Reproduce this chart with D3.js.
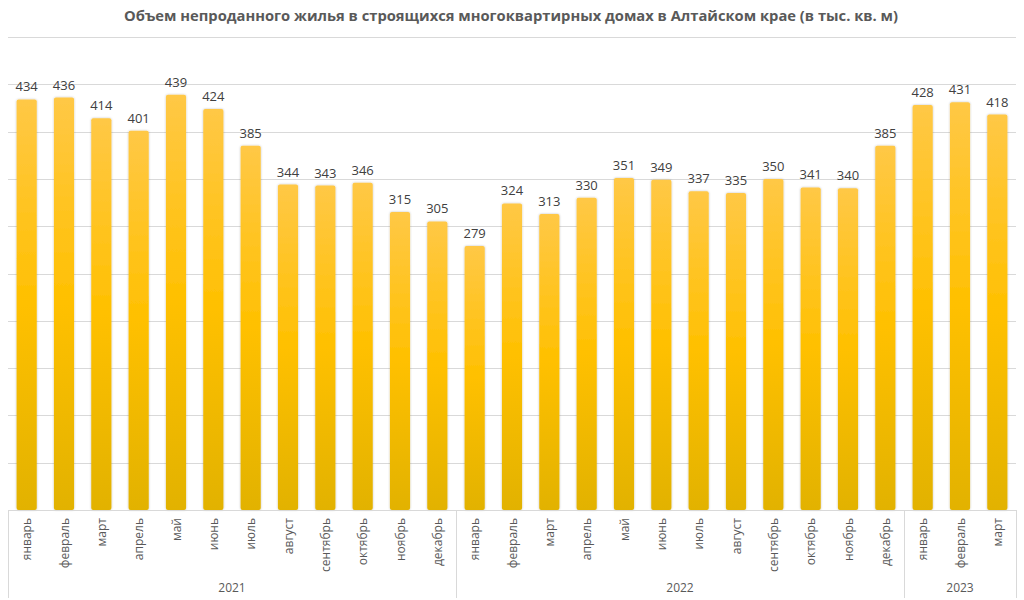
<!DOCTYPE html>
<html><head><meta charset="utf-8">
<script src="https://cdn.jsdelivr.net/npm/d3@7"></script>
<style>body{margin:0;background:#fff}svg{display:block}</style>
</head><body><svg id="c" width="1024" height="600"></svg>
<script>
const months = ["январь","февраль","март","апрель","май","июнь","июль","август","сентябрь","октябрь","ноябрь","декабрь",
"январь","февраль","март","апрель","май","июнь","июль","август","сентябрь","октябрь","ноябрь","декабрь",
"январь","февраль","март"];
const years = ["2021","2022","2023"];
const yearCounts = [12,12,3];
const values = [434,436,414,401,439,424,385,344,343,346,315,305,279,324,313,330,351,349,337,335,350,341,340,385,428,431,418];
const yTicks = [0,50,100,150,200,250,300,350,400,450,500];
const title = "Объем непроданного жилья в строящихся многоквартирных домах в Алтайском крае (в тыс. кв. м)";

const svg = d3.select("#c");
const L=8,R=1016,T=37,B=510;
const idx = values.map((d,i)=>i);
const x = d3.scaleBand().domain(idx).range([L,R]).paddingInner(0.46).paddingOuter(0.23);
const y = d3.scaleLinear().domain([0,500]).range([B,T]);

const defs = svg.append("defs");
const g = defs.append("linearGradient").attr("id","bg").attr("x1",0).attr("y1",0).attr("x2",0).attr("y2",1);
g.append("stop").attr("offset","0%").attr("stop-color","#FFC846");
g.append("stop").attr("offset","50%").attr("stop-color","#FFC000");
g.append("stop").attr("offset","100%").attr("stop-color","#E2B200");
const f = defs.append("filter").attr("id","sh").attr("x","-30%").attr("y","-10%").attr("width","160%").attr("height","120%");
f.append("feGaussianBlur").attr("in","SourceAlpha").attr("stdDeviation",1.2).attr("result","b");
f.append("feFlood").attr("flood-color","#000").attr("flood-opacity",0.25);
f.append("feComposite").attr("in2","b").attr("operator","in").attr("result","s");
const fm = f.append("feMerge"); fm.append("feMergeNode").attr("in","s"); fm.append("feMergeNode").attr("in","SourceGraphic");

svg.append("text").attr("x",511).attr("y",21).attr("text-anchor","middle")
 .attr("font-family","'Open Sans',sans-serif").attr("font-weight","bold").attr("font-size",14.5)
 .attr("fill","#595959").attr("textLength",774).attr("lengthAdjust","spacingAndGlyphs").text(title);

svg.append("g").selectAll("line").data(yTicks.slice(1)).join("line")
 .attr("x1",L).attr("x2",R).attr("y1",d=>Math.round(y(d))+0.5).attr("y2",d=>Math.round(y(d))+0.5)
 .attr("stroke","#d9d9d9").attr("stroke-width",1);

svg.append("g").selectAll("rect").data(values).join("rect")
 .attr("x",(d,i)=>x(i)).attr("y",d=>y(d)).attr("width",x.bandwidth()).attr("height",d=>B-y(d))
 .attr("rx",2).attr("fill","url(#bg)").attr("filter","url(#sh)");

svg.append("g").selectAll("text").data(values).join("text")
 .attr("x",(d,i)=>x(i)+x.bandwidth()/2).attr("y",d=>y(d)-8).attr("text-anchor","middle")
 .attr("font-family","'Open Sans',sans-serif").attr("font-size",13).attr("fill","#404040").text(d=>d);

// axis
svg.append("line").attr("x1",L).attr("x2",R).attr("y1",B+0.5).attr("y2",B+0.5).attr("stroke","#d9d9d9");
let start=0; const bounds=[L];
yearCounts.forEach(c=>{start+=c; bounds.push(start<values.length? (x(start-1)+x.bandwidth()+x(start))/2 : R);});
svg.append("g").selectAll("line").data(bounds).join("line")
 .attr("x1",d=>Math.round(d)+0.5).attr("x2",d=>Math.round(d)+0.5).attr("y1",B).attr("y2",598)
 .attr("stroke","#d9d9d9");

svg.append("g").selectAll("text").data(months).join("text")
 .attr("transform",(d,i)=>`translate(${x(i)+x.bandwidth()/2+4.5},${B+8}) rotate(-90)`)
 .attr("text-anchor","end").attr("font-family","'Open Sans',sans-serif").attr("font-size",12)
 .attr("fill","#595959").text(d=>d);

svg.append("g").selectAll("text").data(years).join("text")
 .attr("x",(d,i)=>(bounds[i]+bounds[i+1])/2).attr("y",592).attr("text-anchor","middle")
 .attr("font-family","'Open Sans',sans-serif").attr("font-size",12).attr("fill","#595959").text(d=>d);
</script></body></html>
